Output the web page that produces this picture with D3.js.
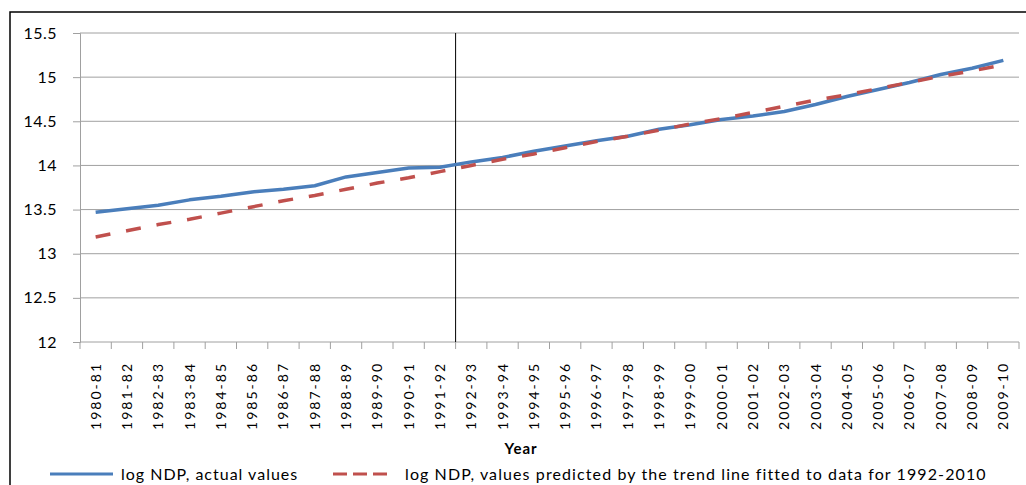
<!DOCTYPE html>
<html>
<head>
<meta charset="utf-8">
<script src="https://cdn.jsdelivr.net/npm/d3@7"></script>
<style>
  html, body { margin: 0; padding: 0; background: #fff; }
  svg { display: block; }
  text { font-family: Lato, "Open Sans", sans-serif; fill: #000; }
</style>
</head>
<body>
<svg id="chart" width="1026" height="485"></svg>
<script>
const categories = ["1980-81","1981-82","1982-83","1983-84","1984-85","1985-86","1986-87","1987-88","1988-89","1989-90","1990-91","1991-92","1992-93","1993-94","1994-95","1995-96","1996-97","1997-98","1998-99","1999-00","2000-01","2001-02","2002-03","2003-04","2004-05","2005-06","2006-07","2007-08","2008-09","2009-10"];
const actualValues = [13.47,13.51,13.55,13.61,13.65,13.70,13.73,13.77,13.87,13.92,13.97,13.98,14.04,14.09,14.16,14.22,14.28,14.33,14.41,14.46,14.52,14.56,14.61,14.69,14.78,14.86,14.94,15.03,15.10,15.19];
const trendValues = [13.19,13.26,13.33,13.39,13.46,13.53,13.60,13.66,13.73,13.80,13.86,13.93,14.00,14.07,14.13,14.20,14.27,14.33,14.40,14.47,14.53,14.60,14.67,14.74,14.80,14.87,14.94,15.01,15.07,15.14];
const yTicks = [12, 12.5, 13, 13.5, 14, 14.5, 15, 15.5];
const seriesNames = ["log NDP, actual values", "log NDP, values predicted by the trend line fitted to data for 1992-2010"];
const xTitle = "Year";
const markerCategory = "1992-93";

const svg = d3.select("#chart");
const L = 80, R = 1019, T = 33, B = 342;

// outer border
svg.append("rect").attr("x", 10).attr("y", 12).attr("width", 1030).attr("height", 500)
  .attr("fill", "none").attr("stroke", "#000").attr("stroke-width", 1.5);

const x = d3.scaleBand().domain(categories).range([L, R]).padding(0);
const y = d3.scaleLinear().domain([12, 15.5]).range([B, T]);
const cx = d => x(d) + x.bandwidth() / 2;

// gridlines
svg.append("g").selectAll("line").data(yTicks.filter(v => v > 12)).join("line")
  .attr("x1", L).attr("x2", R).attr("y1", d => y(d)).attr("y2", d => y(d))
  .attr("stroke", "#a0a0a0").attr("stroke-width", 1);

// y axis
const yAxis = d3.axisLeft(y).tickValues(yTicks)
  .tickFormat(d => (d % 1 ? d.toFixed(1) : d.toFixed(0)))
  .tickSize(7).tickPadding(16);
const gy = svg.append("g").attr("transform", `translate(${L},0)`).call(yAxis);
gy.select(".domain").attr("stroke", "#a0a0a0");
gy.selectAll(".tick line").attr("stroke", "#a0a0a0");
gy.selectAll("text").attr("font-size", 16).attr("font-family", "Lato, sans-serif")
  .attr("letter-spacing", "0.5px").attr("fill", "#000");

// x axis baseline and ticks at boundaries
const boundaries = categories.map(c => x(c)).concat([x(categories[categories.length - 1]) + x.bandwidth()]);
svg.append("line").attr("x1", L).attr("x2", R).attr("y1", B).attr("y2", B).attr("stroke", "#a0a0a0");
svg.append("g").selectAll("line").data(boundaries).join("line")
  .attr("x1", d => d).attr("x2", d => d).attr("y1", B).attr("y2", B + 7)
  .attr("stroke", "#a0a0a0");

// x labels
svg.append("g").selectAll("text").data(categories).join("text")
  .attr("transform", d => `translate(${cx(d)},${B + 20}) rotate(-90)`)
  .attr("text-anchor", "end").attr("dy", "0.36em")
  .attr("font-size", 14).attr("letter-spacing", "2px")
  .text(d => d);

// x title
svg.append("text").attr("x", 521).attr("y", 454).attr("text-anchor", "middle")
  .attr("font-size", 15).attr("font-weight", "bold").attr("letter-spacing", "1px").text(xTitle);

// vertical marker
svg.append("line").attr("x1", x(markerCategory)).attr("x2", x(markerCategory))
  .attr("y1", T).attr("y2", B).attr("stroke", "#000").attr("stroke-width", 1);

const line = d3.line().x((d, i) => cx(categories[i])).y(d => y(d));

svg.append("path").datum(actualValues).attr("d", line)
  .attr("fill", "none").attr("stroke", "#4a7ebb").attr("stroke-width", 3.5)
  .attr("stroke-linejoin", "round");

svg.append("path").datum(trendValues).attr("d", line)
  .attr("fill", "none").attr("stroke", "#c0504d").attr("stroke-width", 3.5)
  .attr("stroke-dasharray", "15,16");

// legend
const ly = 474;
svg.append("line").attr("x1", 50).attr("x2", 113).attr("y1", ly).attr("y2", ly)
  .attr("stroke", "#4a7ebb").attr("stroke-width", 3);
svg.append("text").attr("x", 121).attr("y", ly + 6).attr("font-size", 16)
  .attr("letter-spacing", "1px").text(seriesNames[0]);
svg.append("line").attr("x1", 333).attr("x2", 388).attr("y1", ly).attr("y2", ly)
  .attr("stroke", "#c0504d").attr("stroke-width", 3).attr("stroke-dasharray", "14,6");
svg.append("text").attr("x", 405).attr("y", ly + 6).attr("font-size", 16)
  .attr("letter-spacing", "1.1px").text(seriesNames[1]);
</script>
</body>
</html>
